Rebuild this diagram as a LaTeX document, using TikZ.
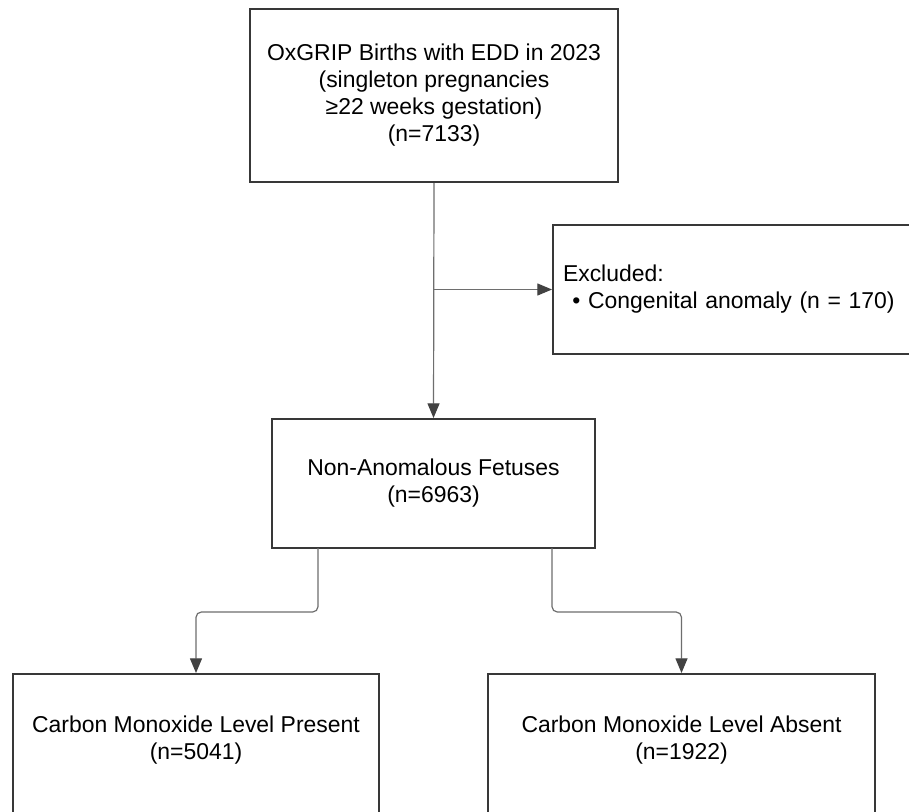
\documentclass[tikz,border=0pt]{standalone}
\usepackage{fontspec}
\setmainfont{Liberation Sans}
\usetikzlibrary{arrows.meta}
\definecolor{boxline}{HTML}{383838}
\definecolor{conline}{HTML}{6E6E6E}
\definecolor{tipcol}{HTML}{424242}
\tikzset{
  txt/.style={font=\fontsize{17.2}{20.25}\selectfont},
  box/.style={draw=boxline, line width=1.5pt, rectangle, align=center, inner sep=0pt, txt},
  conn/.style={draw=conline, line width=0.9pt, rounded corners=4pt,
    -{Triangle[length=11pt,width=9pt,color=tipcol]}}
}
\begin{document}
\begin{tikzpicture}[x=0.75pt,y=-0.75pt]
\useasboundingbox (0,0) rectangle (909,811);
\fill[white] (0,0) rectangle (909,811);
% boxes
\node[box, minimum width=368*0.75pt, minimum height=173*0.75pt] (top) at (434,95.5)
  {OxGRIP Births with EDD in 2023\\(singleton pregnancies\\≥22 weeks gestation)\\(n=7133)};
\node[box, anchor=west, minimum width=420*0.75pt, minimum height=129*0.75pt,
  text width=400*0.75pt, align=left] (excl) at (552,289.5)
  {Excluded:\\\hspace*{7pt}\textbullet\ Congenital anomaly (n = 170)};
\node[box, minimum width=323*0.75pt, minimum height=129*0.75pt] (mid) at (433.5,483.5)
  {Non-Anomalous Fetuses\\(n=6963)};
\node[box, anchor=north, minimum width=366*0.75pt, minimum height=180*0.75pt] (bl) at (196,673)
  {};
\node[box, anchor=north, minimum width=387*0.75pt, minimum height=180*0.75pt] (br) at (681.5,673)
  {};
\node[txt, align=center, inner sep=0pt] (blt) at (196,740)
  {Carbon Monoxide Level Present\\(n=5041)};
\node[txt, align=center, inner sep=0pt] (brt) at (681.5,740)
  {Carbon Monoxide Level Absent\\(n=1922)};
% connectors
\draw[conn] (top.south) -- (mid.north);
\draw[conn] (top.south |- excl.west) -- (excl.west);
\coordinate (b1) at (318,548);
\coordinate (b2) at (552,548);
\draw[conn] (b1) -- ++(0,64) -| (bl.north);
\draw[conn] (b2) -- ++(0,64) -| (br.north);
\end{tikzpicture}
\end{document}
